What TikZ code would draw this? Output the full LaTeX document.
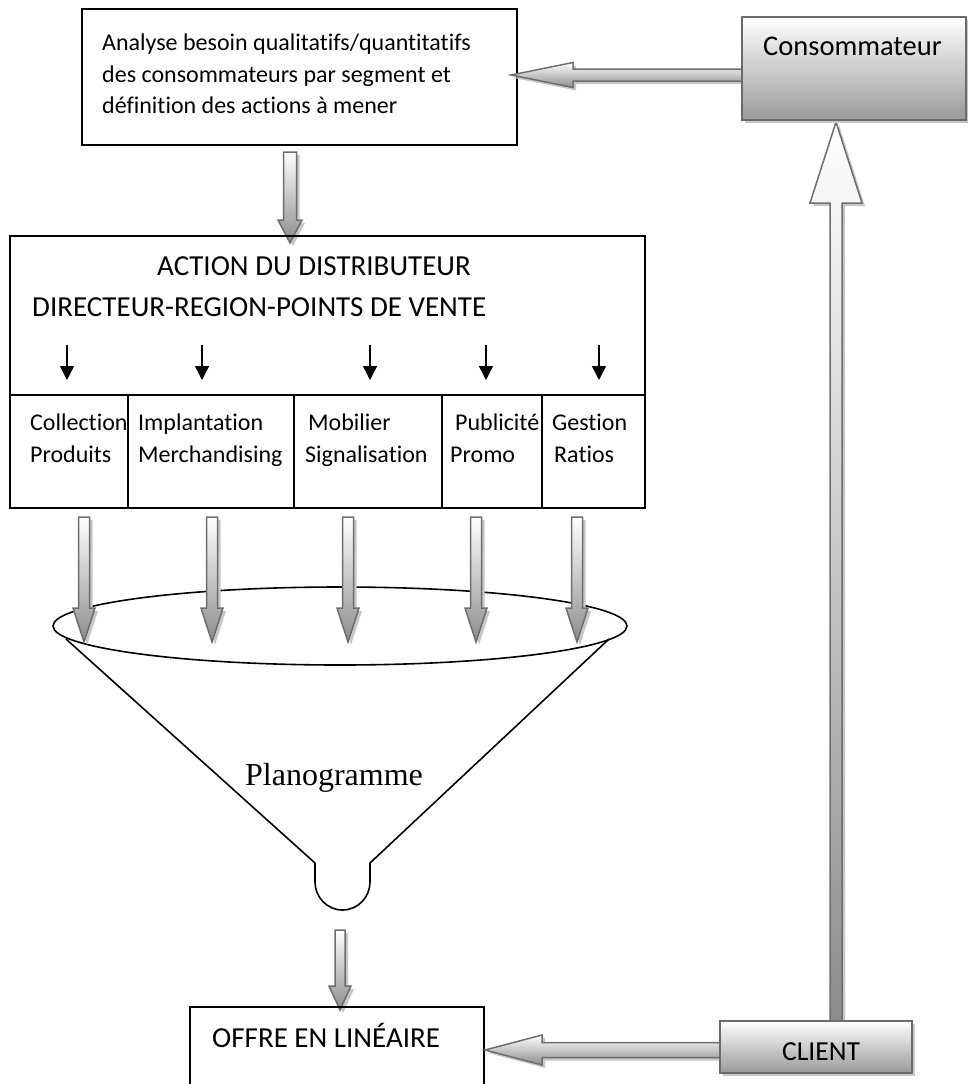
\documentclass[tikz,border=0pt]{standalone}
\usepackage{fontspec}
\setmainfont{Carlito}[Ligatures=NoCommon]
\newfontfamily\timesfont{Liberation Serif}
\usetikzlibrary{arrows.meta}
% vertical block arrow: #1 x-center, #2 tail y, #3 head-base y, #4 tip y, #5 shaft half width, #6 head half width
\newcommand\vblk[6]{%
  \fill[shadowst,xshift=3pt,yshift=-3pt] ({#1-#5},#2) -- ({#1+#5},#2) -- ({#1+#5},#3) -- ({#1+#6},#3) -- (#1,#4) -- ({#1-#6},#3) -- ({#1-#5},#3) -- cycle;
  \draw[barrow] ({#1-#5},#2) -- ({#1+#5},#2) -- ({#1+#5},#3) -- ({#1+#6},#3) -- (#1,#4) -- ({#1-#6},#3) -- ({#1-#5},#3) -- cycle;}
% horizontal block arrow: #1 y-center, #2 tail x, #3 head-base x, #4 tip x, #5 shaft half, #6 head half
\newcommand\hblk[6]{%
  \fill[shadowst,xshift=3pt,yshift=-3pt] (#2,{#1-#5}) -- (#2,{#1+#5}) -- (#3,{#1+#5}) -- (#3,{#1+#6}) -- (#4,#1) -- (#3,{#1-#6}) -- (#3,{#1-#5}) -- cycle;
  \draw[barrow] (#2,{#1-#5}) -- (#2,{#1+#5}) -- (#3,{#1+#5}) -- (#3,{#1+#6}) -- (#4,#1) -- (#3,{#1-#6}) -- (#3,{#1-#5}) -- cycle;}
\begin{document}
\begin{tikzpicture}[x=1pt,y=-1pt,
  box/.style={draw=black,line width=1.6pt},
  shbox/.style={draw=black!58,line width=1.5pt,top color=white,bottom color=black!40},
  txt/.style={inner sep=0pt,anchor=base west},
  barrow/.style={draw=black!57,line width=1.5pt,top color=white,bottom color=black!45},
  shadowst/.style={fill=black!22},
  thinarrow/.style={line width=1.5pt,-{Triangle[length=14pt,width=14pt]}},
  f24/.style={font=\fontsize{24}{31}\selectfont},
  f29/.style={font=\fontsize{29}{35}\selectfont}]
\useasboundingbox (0,0) rectangle (968,1084);
\clip (0,0) rectangle (968,1084);

% ---------- top-left analysis box ----------
\draw[box] (82,9) rectangle (517,145);
\node[txt,f24] (a1) at (102,50) {Analyse besoin qualitatifs/quantitatifs};
\node[txt,f24] (a2) at (102,82) {des consommateurs par segment et};
\node[txt,f24] (a3) at (102,113) {définition des actions à mener};

% ---------- big up arrow CLIENT -> Consommateur ----------
\vblk{836}{1021}{203}{122}{6}{26}

% ---------- arrow Consommateur -> analysis ----------
\hblk{75}{742}{573}{511}{6}{12.5}

% ---------- Consommateur box ----------
\fill[shadowst] (745,20) rectangle (969,123);
\draw[shbox] (742,17) rectangle (966,120);
\node[txt,font=\fontsize{28.5}{34}\selectfont] (conso) at (763,55) {Consommateur};

% ---------- arrow analysis -> action ----------
\vblk{290}{152}{220}{243}{6.5}{12}

% ---------- ACTION box ----------
\draw[box] (10,236) rectangle (645,508);
\draw[box] (10,395) -- (645,395);
\foreach \xx in {128,294,442,542} \draw[box] (\xx,395) -- (\xx,508);
\node[txt,f29] (act1) at (157,275) {ACTION DU DISTRIBUTEUR};
\node[txt,f29] (act2) at (32,316) {DIRECTEUR-REGION-POINTS DE VENTE};
\foreach \xx in {67,202,370,486,599} \draw[thinarrow] (\xx,345) -- (\xx,380);

\node[txt,f24] (c1a) at (30,430) {Collection};
\node[txt,f24] (c1b) at (30,462) {Produits};
\node[txt,f24] (c2a) at (138,430) {Implantation};
\node[txt,f24] (c2b) at (138,462) {Merchandising};
\node[txt,f24] (c3a) at (308,430) {Mobilier};
\node[txt,f24] (c3b) at (305,462) {Signalisation};
\node[txt,f24] (c4a) at (455,430) {Publicité};
\node[txt,f24] (c4b) at (450,462) {Promo};
\node[txt,f24] (c5a) at (552,430) {Gestion};
\node[txt,f24] (c5b) at (554,462) {Ratios};

% ---------- funnel ----------
\draw[line width=1.6pt] (340,626) ellipse [x radius=287, y radius=39];
\draw[line width=1.6pt,line join=round] (66,639) -- (315,863) -- (315,882)
  .. controls (315,897) and (327,910) .. (342.5,910)
  .. controls (358,910) and (370,897) .. (370,882) -- (370,863) -- (609,639);
\node[inner sep=0pt,anchor=base,font=\timesfont\fontsize{32}{38}\selectfont] (plano) at (334,785) {Planogramme};

% ---------- arrows into funnel ----------
\foreach \xx in {84,212,348,476,577} {\vblk{\xx}{517}{608}{642}{5.5}{11}}

% ---------- arrow funnel -> offre ----------
\vblk{340}{930}{986}{1010}{5}{11}

% ---------- OFFRE box ----------
\draw[box] (190,1100) -- (190,1007) -- (484,1007) -- (484,1100);
\node[txt,f29] (offre) at (212,1047) {OFFRE EN LINÉAIRE};

% ---------- arrow CLIENT -> OFFRE ----------
\hblk{1050}{720}{542}{485}{7.5}{15}

% ---------- CLIENT box ----------
\fill[shadowst] (723,1024) rectangle (915,1076);
\draw[shbox] (720,1021) rectangle (912,1073);
\node[txt,font=\fontsize{27.5}{33}\selectfont] (client) at (782,1060) {CLIENT};
\end{tikzpicture}
\end{document}
